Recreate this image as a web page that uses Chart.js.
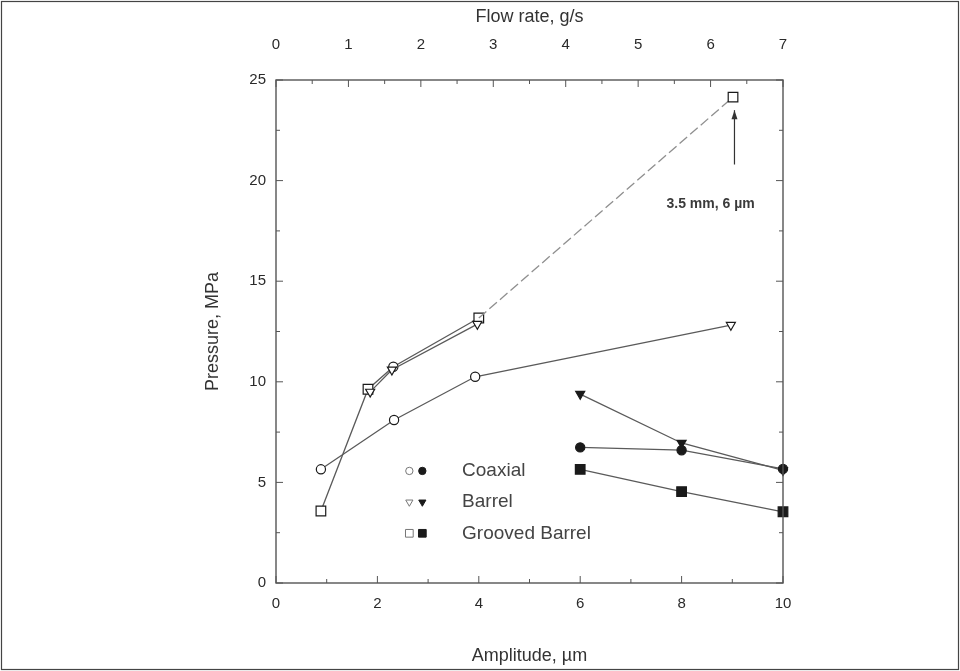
<!DOCTYPE html>
<html>
<head>
<meta charset="utf-8">
<script src="https://cdn.jsdelivr.net/npm/chart.js@4.4.1/dist/chart.umd.min.js"></script>
<style>
  html, body { margin: 0; padding: 0; background: #fff; }
  #wrap { position: relative; width: 960px; height: 671px; }
</style>
</head>
<body>
<div id="wrap"><canvas id="chart" width="960" height="671"></canvas></div>
<script>
// Open symbols are plotted against the top (flow rate) axis,
// filled symbols against the bottom (amplitude) axis.
const lowerOpenFlow = [0.62, 1.63, 2.75, 6.28];
const lowerOpenPressure = [5.65, 8.1, 10.25, 12.82];
const lowerOpenMarks = ["circle", "circle", "circle", "triangle"];

const upperOpenFlow = [0.62, 1.27, 1.62, 2.8];
const upperOpenPressure = [3.58, 9.63, 10.75, 13.17];
const upperOpenMarks = ["rect", "rect", "circle", "rect"];

const barrelOpenFlow = [1.3, 1.6, 2.78];
const barrelOpenPressure = [9.5, 10.6, 12.87];
const barrelOpenMarks = ["triangle", "triangle", "triangle"];

const extrapFlow = [2.8, 6.31];
const extrapPressure = [13.17, 24.15];

const amplitude = [6, 8, 10];
const coaxialPressure = [6.74, 6.6, 5.67];
const barrelPressure = [9.39, 6.96, 5.6];
const groovedPressure = [5.65, 4.54, 3.54];

const legendItems = ["Coaxial", "Barrel", "Grooved Barrel"];
const legendMarks = ["circle", "triangle", "rect"];
const noteText = "3.5 mm, 6 \u00b5m";

const LINE = "#5a5a5a";
const MARK = "#1a1a1a";
const FONT = "'Liberation Sans', Arial, sans-serif";

const toPoints = (xs, ys) => xs.map((x, i) => ({ x, y: ys[i] }));
const markRadius = { circle: 4.6, triangle: 5.2, rect: 6.8 };

function seriesStyle(open, marks) {
  return {
    borderColor: LINE,
    borderWidth: 1.3,
    pointStyle: marks,
    pointRotation: marks.map((m) => (m === "triangle" ? 180 : 0)),
    pointRadius: marks.map((m) => markRadius[m]),
    pointBorderWidth: 1.2,
    pointBorderColor: MARK,
    pointBackgroundColor: open ? "#fff" : MARK,
    showLine: true,
    tension: 0
  };
}

// Inward tick marks, frame, annotation and the in-plot legend.
const decorations = {
  id: "decorations",
  beforeDraw(chart) {
    const ctx = chart.ctx;
    ctx.save();
    ctx.fillStyle = "#fff";
    ctx.fillRect(0, 0, chart.width, chart.height);
    ctx.strokeStyle = "#444";
    ctx.lineWidth = 1.2;
    ctx.strokeRect(1.5, 1.5, chart.width - 3, chart.height - 3);
    ctx.restore();
  },
  afterDatasetsDraw(chart) {
    const { ctx, chartArea: a, scales } = chart;
    ctx.save();
    ctx.strokeStyle = "#555";
    ctx.lineWidth = 1.4;
    ctx.strokeRect(a.left, a.top, a.right - a.left, a.bottom - a.top);

    ctx.lineWidth = 1;
    const tick = (x1, y1, x2, y2) => {
      ctx.beginPath();
      ctx.moveTo(x1, y1);
      ctx.lineTo(x2, y2);
      ctx.stroke();
    };
    for (let v = 0; v <= 25; v += 2.5) {
      const y = scales.y.getPixelForValue(v);
      const len = v % 5 === 0 ? 7 : 4;
      tick(a.left, y, a.left + len, y);
      tick(a.right, y, a.right - len, y);
    }
    for (let v = 0; v <= 10; v += 1) {
      const x = scales.x.getPixelForValue(v);
      tick(x, a.bottom, x, a.bottom - (v % 2 === 0 ? 7 : 4));
    }
    for (let v = 0; v <= 7; v += 0.5) {
      const x = scales.x2.getPixelForValue(v);
      tick(x, a.top, x, a.top + (v % 1 === 0 ? 7 : 4));
    }

    // arrow and note for the extrapolated point
    const ax = scales.x2.getPixelForValue(6.33);
    const yTip = scales.y.getPixelForValue(23.5);
    const yTail = scales.y.getPixelForValue(20.8);
    ctx.strokeStyle = "#333";
    ctx.lineWidth = 1.2;
    tick(ax, yTail, ax, yTip);
    ctx.fillStyle = "#333";
    ctx.beginPath();
    ctx.moveTo(ax, yTip);
    ctx.lineTo(ax - 3, yTip + 9);
    ctx.lineTo(ax + 3, yTip + 9);
    ctx.closePath();
    ctx.fill();
    ctx.font = "bold 14px " + FONT;
    ctx.textAlign = "center";
    ctx.textBaseline = "middle";
    ctx.fillStyle = "#3a3a3a";
    ctx.fillText(noteText, scales.x2.getPixelForValue(6.0), scales.y.getPixelForValue(18.85));

    // legend: open + filled symbol, then label
    const draw = Chart.helpers.drawPoint;
    legendItems.forEach((label, i) => {
      const y = scales.y.getPixelForValue(5.57 - i * 1.55);
      const x0 = scales.x.getPixelForValue(2.63);
      const mark = legendMarks[i];
      const rot = mark === "triangle" ? 180 : 0;
      const r = markRadius[mark] * 0.8;
      ctx.lineWidth = 1;
      ctx.strokeStyle = "#777";
      ctx.fillStyle = "#fff";
      draw(ctx, { pointStyle: mark, rotation: rot, radius: r, borderWidth: 1 }, x0, y);
      ctx.strokeStyle = MARK;
      ctx.fillStyle = MARK;
      draw(ctx, { pointStyle: mark, rotation: rot, radius: r, borderWidth: 1 }, x0 + 13, y);
      ctx.font = "19px " + FONT;
      ctx.textAlign = "left";
      ctx.fillStyle = "#444";
      ctx.fillText(label, scales.x.getPixelForValue(3.67), y);
    });
    ctx.restore();
  }
};

const tickFont = { family: FONT, size: 15 };
const titleFont = { family: FONT, size: 18 };

new Chart(document.getElementById("chart"), {
  type: "scatter",
  data: {
    datasets: [
      {
        data: toPoints(extrapFlow, extrapPressure),
        xAxisID: "x2",
        borderColor: "#8f8f8f",
        borderWidth: 1.3,
        borderDash: [10, 4],
        showLine: true,
        pointStyle: "rect",
        pointRadius: [0, markRadius.rect],
        pointBorderWidth: 1.2,
        pointBorderColor: MARK,
        pointBackgroundColor: "#fff"
      },
      { data: toPoints(lowerOpenFlow, lowerOpenPressure), xAxisID: "x2", ...seriesStyle(true, lowerOpenMarks) },
      { data: toPoints(barrelOpenFlow, barrelOpenPressure), xAxisID: "x2", ...seriesStyle(true, barrelOpenMarks) },
      { data: toPoints(upperOpenFlow, upperOpenPressure), xAxisID: "x2", ...seriesStyle(true, upperOpenMarks) },
      { data: toPoints(amplitude, coaxialPressure), xAxisID: "x", ...seriesStyle(false, ["circle", "circle", "circle"]) },
      { data: toPoints(amplitude, barrelPressure), xAxisID: "x", ...seriesStyle(false, ["triangle", "triangle", "triangle"]) },
      { data: toPoints(amplitude, groovedPressure), xAxisID: "x", ...seriesStyle(false, ["rect", "rect", "rect"]) }
    ]
  },
  options: {
    responsive: false,
    animation: false,
    clip: false,
    layout: { padding: { left: 0, right: 177, top: 0, bottom: 0 } },
    plugins: { legend: { display: false }, tooltip: { enabled: false } },
    scales: {
      x: {
        type: "linear",
        position: "bottom",
        min: 0,
        max: 10,
        afterFit: (s) => { s.height = 88; },
        grid: { display: false, drawTicks: false },
        border: { display: false },
        ticks: { stepSize: 2, padding: 12, color: "#2a2a2a", font: tickFont },
        title: { display: true, text: "Amplitude, \u00b5m", color: "#333", padding: { top: 10 }, font: titleFont }
      },
      x2: {
        type: "linear",
        position: "top",
        min: 0,
        max: 7,
        afterFit: (s) => { s.height = 80; },
        grid: { display: false, drawTicks: false },
        border: { display: false },
        ticks: { stepSize: 1, padding: 26, color: "#2a2a2a", font: tickFont },
        title: { display: true, text: "Flow rate, g/s", color: "#333", padding: { top: 6 }, font: titleFont }
      },
      y: {
        min: 0,
        max: 25,
        afterFit: (s) => { s.width = 276; },
        grid: { display: false, drawTicks: false },
        border: { display: false },
        ticks: { stepSize: 5, padding: 10, color: "#2a2a2a", font: tickFont },
        title: { display: true, text: "Pressure, MPa", color: "#333", padding: { top: 202 }, font: titleFont }
      }
    }
  },
  plugins: [decorations]
});
</script>
</body>
</html>
